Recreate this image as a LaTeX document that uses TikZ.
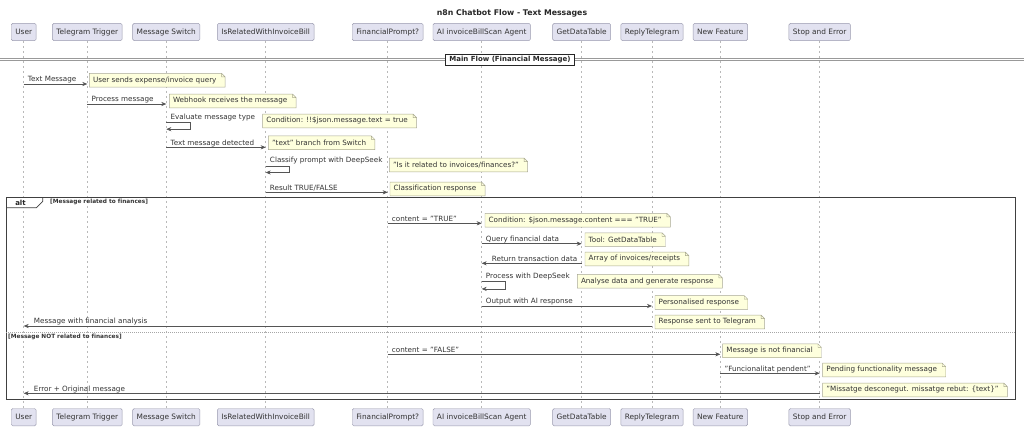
\documentclass[tikz,border=0pt]{standalone}
\usepackage{fontspec}
\setmainfont{DejaVu Sans}[Ligatures=NoCommon]
\usepackage{tikz}
\usetikzlibrary{arrows.meta}

\definecolor{partfill}{HTML}{E2E2F0}
\definecolor{partline}{HTML}{9A9AAE}
\definecolor{notefill}{HTML}{FEFFDD}
\definecolor{noteline}{HTML}{A8A88E}
\definecolor{inkgray}{HTML}{333333}
\definecolor{linegray}{HTML}{555555}

% note with a folded top-right corner: name, west point, text
\newcommand{\umlnote}[3]{%
  \node[note] (#1) at (#2) {#3};
  \fill[white] ([xshift=-3.5pt]#1.north east) -- (#1.north east) -- ([yshift=-3.5pt]#1.north east) -- cycle;
  \draw[noteedge] (#1.south west) -- (#1.north west) -- ([xshift=-3.5pt]#1.north east)
      -- ([yshift=-3.5pt]#1.north east) -- (#1.south east) -- cycle
      ([xshift=-3.5pt]#1.north east) |- ([yshift=-3.5pt]#1.north east);
}

\begin{document}
\begin{tikzpicture}[
    x=1pt, y=-1pt,
    % --- participant styles ---
    part/.style={draw=partline, fill=partfill, rounded corners=1.5pt, line width=0.45pt,
                 minimum height=17.4pt, inner xsep=4pt, inner ysep=0pt,
                 font=\fontsize{7.4}{8.8}\selectfont, text=inkgray},
    life/.style={draw=gray!55, line width=0.45pt, dash pattern=on 2.5pt off 2.5pt},
    % --- message styles ---
    msg/.style={-{Stealth[length=5pt, width=4.2pt, inset=1.6pt]}, draw=linegray, line width=0.55pt},
    lbl/.style={font=\fontsize{7.2}{8.6}\selectfont, text=inkgray, inner sep=0pt,
                anchor=base west, yshift=2.3pt},
    lblr/.style={lbl, xshift=4pt},
    lbll/.style={lbl, xshift=10pt},
    % --- note styles ---
    note/.style={fill=notefill, anchor=west, inner xsep=3.5pt, inner ysep=0pt, minimum height=13.4pt,
                 font=\fontsize{7.2}{8.6}\selectfont, text=inkgray,
                 execute at end node={\hspace*{5pt}}},
    noteedge/.style={draw=noteline, line width=0.45pt},
    % --- frame styles ---
    frame/.style={draw=black!75, line width=0.9pt},
    guard/.style={font=\fontsize{5.8}{7}\selectfont\bfseries, text=inkgray, inner sep=0pt, anchor=west},
    divbox/.style={draw=black!85, fill=white, line width=0.9pt, minimum height=11.4pt, inner xsep=4pt,
                   inner ysep=0pt, font=\fontsize{7}{8.4}\selectfont\bfseries, text=black!85},
    hdr/.style={font=\fontsize{7.8}{9.4}\selectfont\bfseries, text=black!85, inner sep=0pt},
]
\useasboundingbox (0,0) rectangle (1024,428);

%% ---- TITLE ----
\node[hdr] (title) at (512,13.3) {n8n Chatbot Flow - Text Messages};

%% ---- PARTICIPANTS (top row y = 32, bottom row y = 417.2) ----
\node[part] (user)  at ( 23.7,32) {User};
\node[part] (tg)    at ( 87.3,32) {Telegram Trigger};
\node[part] (sw)    at (166.3,32) {Message Switch};
\node[part] (rel)   at (265.7,32) {IsRelatedWithInvoiceBill};
\node[part] (fp)    at (387.7,32) {FinancialPrompt?};
\node[part] (agent) at (481.7,32) {AI invoiceBillScan Agent};
\node[part] (gdt)   at (581.7,32) {GetDataTable};
\node[part] (reply) at (652.0,32) {ReplyTelegram};
\node[part] (newf)  at (720.3,32) {New Feature};
\node[part] (stop)  at (819.7,32) {Stop and Error};

\node[part] (userB)  at ( 23.7,417.2) {User};
\node[part] (tgB)    at ( 87.3,417.2) {Telegram Trigger};
\node[part] (swB)    at (166.3,417.2) {Message Switch};
\node[part] (relB)   at (265.7,417.2) {IsRelatedWithInvoiceBill};
\node[part] (fpB)    at (387.7,417.2) {FinancialPrompt?};
\node[part] (agentB) at (481.7,417.2) {AI invoiceBillScan Agent};
\node[part] (gdtB)   at (581.7,417.2) {GetDataTable};
\node[part] (replyB) at (652.0,417.2) {ReplyTelegram};
\node[part] (newfB)  at (720.3,417.2) {New Feature};
\node[part] (stopB)  at (819.7,417.2) {Stop and Error};

%% ---- LIFELINES ----
\draw[life] (user.south)  -- (userB.north);
\draw[life] (tg.south)    -- (tgB.north);
\draw[life] (sw.south)    -- (swB.north);
\draw[life] (rel.south)   -- (relB.north);
\draw[life] (fp.south)    -- (fpB.north);
\draw[life] (agent.south) -- (agentB.north);
\draw[life] (gdt.south)   -- (gdtB.north);
\draw[life] (reply.south) -- (replyB.north);
\draw[life] (newf.south)  -- (newfB.north);
\draw[life] (stop.south)  -- (stopB.north);

%% ---- DIVIDER ----
\coordinate (divL) at (0,59.4);
\coordinate (divR) at (1024,59.4);
\draw[draw=black!40, line width=0.55pt, double=white, double distance=1.1pt] (divL) -- (divR);
\node[divbox] (mainflow) at (510,60) {Main Flow (Financial Message)};

%% ---- ALT FRAME ----
\coordinate (altNW) at (6,197.7);
\coordinate (altSE) at (1015,399);
\fill[white] (6,197.7) -- (42.7,197.7) -- (42.7,201.5) -- (36.5,207.7) -- (6,207.7) -- cycle;
\draw[frame] (altNW) rectangle (altSE);
\draw[frame, line width=0.7pt] (42.7,197.7) -- (42.7,201.5) -- (36.5,207.7) -- (6,207.7);
\node[font=\fontsize{7}{8.4}\selectfont\bfseries, text=black!85, inner sep=0pt] (altTab) at (20.5,202.6) {alt};
\node[guard] (ifGuard) at (50,202.2) {[Message related to finances]};
\coordinate (elseL) at (6,332.7);
\coordinate (elseR) at (1015,332.7);
\draw[draw=gray!70, line width=0.5pt, dash pattern=on 1pt off 1pt] (elseL) -- (elseR);
\node[guard] (elseGuard) at (8,337) {[Message NOT related to finances]};

%% ---- NOTES ----
\umlnote{nQuery}{89.3,80.3}{User sends expense/invoice query}
\umlnote{nHook}{169.3,101}{Webhook receives the message}
\umlnote{nCond}{262.7,121}{Condition: !!\$json.message.text = true}
\umlnote{nBranch}{268.3,142.8}{"text" branch from Switch}
\umlnote{nAsk}{389.3,165}{"Is it related to invoices/finances?"}
\umlnote{nClass}{390,189}{Classification response}
\umlnote{nTrue}{485,220.3}{Condition: \$json.message.content === "TRUE"}
\umlnote{nTool}{585,239.7}{Tool: GetDataTable}
\umlnote{nArray}{585,259}{Array of invoices/receipts}
\umlnote{nAnalyse}{577.3,281.2}{Analyse data and generate response}
\umlnote{nPers}{655,302.5}{Personalised response}
\umlnote{nSent}{655,322}{Response sent to Telegram}
\umlnote{nNotFin}{722.7,350.8}{Message is not financial}
\umlnote{nPend}{822.7,370}{Pending functionality message}
\umlnote{nUnknown}{822.7,390}{"Missatge desconegut. missatge rebut: \{text\}"}

%% =====================================================================
%%  MESSAGES
%% =====================================================================
\draw[msg] (user |- 0,84) -- node[lblr, pos=0] {Text Message} (tg |- 0,84);
\draw[msg] (tg |- 0,104) -- node[lblr, pos=0] {Process message} (sw |- 0,104);
%% self call on the switch
\draw[msg] (sw |- 0,122.7) node[lblr, yshift=0.9pt] {Evaluate message type}
    -- ++(23.5,0) -- ++(0,6.5) -- (sw |- 0,129.2);
\draw[msg] (sw |- 0,147.3) -- node[lblr, pos=0] {Text message detected} (rel |- 0,147.3);
%% self call on the classifier
\draw[msg] (rel |- 0,166) node[lblr, yshift=0.9pt] {Classify prompt with DeepSeek}
    -- ++(23.5,0) -- ++(0,6.5) -- (rel |- 0,172.5);
\draw[msg] (rel |- 0,192.3) -- node[lblr, pos=0] {Result TRUE/FALSE} (fp |- 0,192.3);

%% --- alt: related to finances ---
\draw[msg] (fp |- 0,223.3) -- node[lblr, pos=0] {content = "TRUE"} (agent |- 0,223.3);
\draw[msg] (agent |- 0,243.7) -- node[lblr, pos=0] {Query financial data} (gdt |- 0,243.7);
\draw[msg] (gdt |- 0,263.3) -- node[lbll, pos=1] {Return transaction data} (agent |- 0,263.3);
\draw[msg] (agent |- 0,281.7) node[lblr, yshift=0.9pt] {Process with DeepSeek}
    -- ++(24,0) -- ++(0,7.2) -- (agent |- 0,288.9);
\draw[msg] (agent |- 0,306) -- node[lblr, pos=0] {Output with AI response} (reply |- 0,306);
\draw[msg] (reply |- 0,326) -- node[lbll, pos=1] {Message with financial analysis} (user |- 0,326);

%% --- else: not related ---
\draw[msg] (fp |- 0,354.3) -- node[lblr, pos=0] {content = "FALSE"} (newf |- 0,354.3);
\draw[msg] (newf |- 0,373.3) -- node[lblr, pos=0] {"Funcionalitat pendent"} (stop |- 0,373.3);
\draw[msg] (stop |- 0,393.3) -- node[lbll, pos=1] {Error + Original message} (user |- 0,393.3);

\end{tikzpicture}
\end{document}
